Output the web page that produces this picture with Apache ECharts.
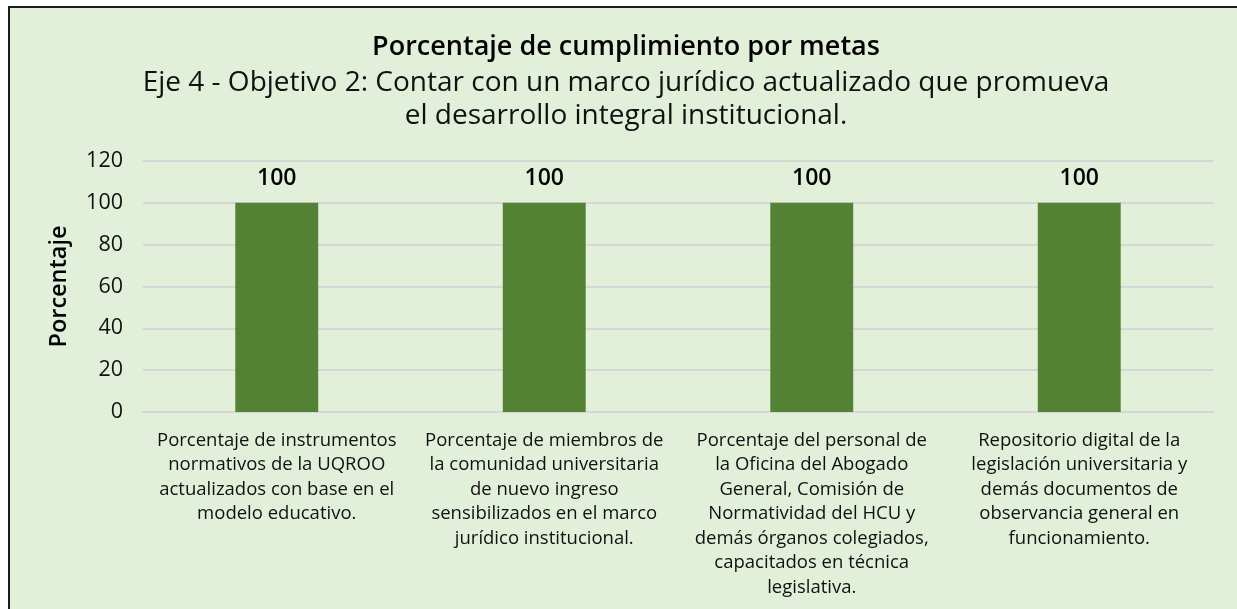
<!DOCTYPE html>
<html>
<head>
<meta charset="utf-8">
<script src="https://cdn.jsdelivr.net/npm/echarts@6/dist/echarts.min.js"></script>
<style>
  html, body { margin: 0; padding: 0; background: #ffffff; overflow: hidden; }
  #frame {
    position: absolute; left: 8px; top: 6px; width: 1400px; height: 700px;
    background: #E2EFD9; border-left: 2px solid #1b1b1b; border-top: 2px solid #1b1b1b;
  }
  #chart { position: absolute; left: 0; top: 0; width: 1237px; height: 609px; }
</style>
</head>
<body>
<div id="frame"></div>
<div id="chart"></div>
<script>
// Goals of Eje 4 - Objetivo 2 and their completion percentage
const categories = [
  'Porcentaje de instrumentos\nnormativos de la UQROO\nactualizados con base en el\nmodelo educativo.',
  'Porcentaje de miembros de\nla comunidad universitaria\nde nuevo ingreso\nsensibilizados en el marco\njurídico institucional.',
  'Porcentaje del personal de\nla Oficina del Abogado\nGeneral, Comisión de\nNormatividad del HCU y\ndemás órganos colegiados,\ncapacitados en técnica\nlegislativa.',
  'Repositorio digital de la\nlegislación universitaria y\ndemás documentos de\nobservancia general en\nfuncionamiento.'
];
const values = [100, 100, 100, 100];
const yTicks = { min: 0, max: 120, interval: 20 };

const titleText = 'Porcentaje de cumplimiento por metas';
const subtitleLines = [
  'Eje 4 - Objetivo 2: Contar con un marco jurídico actualizado que promueva',
  'el desarrollo integral institucional.'
];

const FONT = '"Open Sans", "DejaVu Sans", sans-serif';

const chart = echarts.init(document.getElementById('chart'), null, { renderer: 'canvas' });
chart.setOption({
  backgroundColor: 'transparent',
  textStyle: { fontFamily: FONT },
  title: {
    text: titleText,
    subtext: subtitleLines.join('\n'),
    left: 621,
    textAlign: 'center',
    top: 26,
    itemGap: 4,
    textStyle: { fontFamily: FONT, fontSize: 27, fontWeight: 600, color: '#000000', lineHeight: 32 },
    subtextStyle: { fontFamily: FONT, fontSize: 28, color: '#111111', lineHeight: 33, align: 'center' }
  },
  grid: { left: 143, right: 24, top: 161, bottom: 197 },
  xAxis: {
    type: 'category',
    data: categories,
    axisLine: { show: true, lineStyle: { color: '#d6d6d6', width: 2 } },
    axisTick: { show: false },
    axisLabel: {
      interval: 0,
      margin: 16,
      fontFamily: FONT,
      fontSize: 18.5,
      lineHeight: 24.5,
      color: '#111111',
      align: 'center'
    }
  },
  yAxis: {
    type: 'value',
    min: yTicks.min,
    max: yTicks.max,
    interval: yTicks.interval,
    name: 'Porcentaje',
    nameLocation: 'middle',
    nameGap: 72,
    nameTextStyle: { fontFamily: FONT, fontSize: 23.5, fontWeight: 600, color: '#000000' },
    axisLine: { show: false },
    axisTick: { show: false },
    axisLabel: { fontFamily: FONT, fontSize: 21.5, color: '#111111', margin: 20 },
    splitLine: { lineStyle: { color: '#d6d6d6', width: 2 } }
  },
  series: [{
    type: 'bar',
    data: values,
    barWidth: '31%',
    itemStyle: { color: '#548235' },
    label: {
      show: true,
      position: 'top',
      distance: 13,
      fontFamily: FONT,
      fontSize: 23,
      fontWeight: 600,
      color: '#000000'
    }
  }]
});
</script>
</body>
</html>
